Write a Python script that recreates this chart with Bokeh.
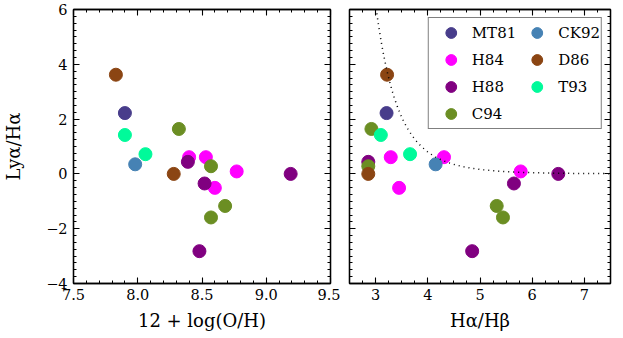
import numpy as np
from bokeh.plotting import figure
from bokeh.models import Range1d, FixedTicker, LinearAxis, Legend, LegendItem, CustomLabelingPolicy
from bokeh.layouts import row
from bokeh.embed import file_html
from bokeh.resources import INLINE

# ---- data ----
surveys = ["MT81", "H84", "H88", "C94", "CK92", "D86", "T93"]
colors = ["#483D8B", "#FF00FF", "#800080", "#6B8E23", "#4682B4", "#8B4513", "#00FA9A"]

mt81_oh = [7.90]
mt81_bd = [3.21]
mt81_ly = [2.22]

h84_oh = [8.40, 8.53, 8.60, 8.77]
h84_bd = [3.29, 4.31, 3.45, 5.78]
h84_ly = [0.61, 0.61, -0.51, 0.09]

h88_oh = [8.39, 8.52, 8.48, 9.19]
h88_bd = [2.86, 5.65, 4.85, 6.50]
h88_ly = [0.44, -0.35, -2.82, 0.00]

c94_oh = [8.32, 8.57, 8.68, 8.57]
c94_bd = [2.92, 2.86, 5.32, 5.44]
c94_ly = [1.64, 0.28, -1.17, -1.59]

ck92_oh = [7.98]
ck92_bd = [4.15]
ck92_ly = [0.35]

d86_oh = [7.83, 8.28]
d86_bd = [3.22, 2.86]
d86_ly = [3.62, 0.00]

t93_oh = [7.90, 8.06]
t93_bd = [3.10, 3.66]
t93_ly = [1.42, 0.72]

oh_list = [mt81_oh, h84_oh, h88_oh, c94_oh, ck92_oh, d86_oh, t93_oh]
bd_list = [mt81_bd, h84_bd, h88_bd, c94_bd, ck92_bd, d86_bd, t93_bd]
ly_list = [mt81_ly, h84_ly, h88_ly, c94_ly, ck92_ly, d86_ly, t93_ly]

# dust model: Lya/Ha = intrinsic * (Ha/Hb / 2.86)^-k
lya_intrinsic = 8.7
balmer_intrinsic = 2.86
dust_exponent = 7.1

# ticks
oh_ticks = [7.5, 8.0, 8.5, 9.0, 9.5]
oh_tick_labels = ["7.5", "8.0", "8.5", "9.0", "9.5"]
bd_ticks = [3, 4, 5, 6, 7]
bd_tick_labels = ["3", "4", "5", "6", "7"]
ly_ticks = [-4, -2, 0, 2, 4, 6]
ly_tick_labels = ["\u22124", "\u22122", "0", "2", "4", "6"]

FONT = "DejaVu Serif"
TICK_SIZE = "14.5px"
LABEL_SIZE = "18px"

NO_LABELS = "for (const i of indices) { indices.unset(i) }\nreturn indices"


def style_axis(ax, ticks, minor, labels=None, show=True):
    ax.ticker = FixedTicker(ticks=ticks, minor_ticks=list(minor))
    ax.major_tick_in = 6
    ax.major_tick_out = 0
    ax.minor_tick_in = 3
    ax.minor_tick_out = 0
    ax.axis_line_color = "black"
    ax.axis_line_width = 1.3
    ax.major_tick_line_color = "black"
    ax.minor_tick_line_color = "black"
    ax.major_tick_line_width = 1.1
    ax.minor_tick_line_width = 1
    ax.major_label_text_font = FONT
    ax.major_label_text_color = "black"
    ax.axis_label_text_font = FONT
    ax.axis_label_text_font_style = "normal"
    ax.axis_label_text_font_size = LABEL_SIZE
    ax.axis_label_text_color = "black"
    if show:
        ax.major_label_text_font_size = TICK_SIZE
        if labels is not None:
            ax.major_label_overrides = {t: l for t, l in zip(ticks, labels)}
    else:
        ax.major_label_policy = CustomLabelingPolicy(code=NO_LABELS)
        ax.major_label_text_font_size = "0px"
        ax.major_label_standoff = 0
        ax.axis_label = None


def make_fig(width, xr, bl, br):
    p = figure(width=width, height=338, x_range=Range1d(*xr), y_range=Range1d(-4, 6),
               output_backend="svg", toolbar_location=None,
               min_border_left=bl, min_border_right=br, min_border_top=9, min_border_bottom=55,
               x_axis_location="below", y_axis_location="left")
    p.xgrid.visible = False
    p.ygrid.visible = False
    p.outline_line_color = "black"
    p.outline_line_width = 1.3
    p.background_fill_color = "white"
    p.border_fill_color = "white"
    return p


y_minor = np.arange(-4, 6.001, 0.25)

# ---- left panel ----
p1 = make_fig(340, (7.5, 9.5), 68, 10)
style_axis(p1.xaxis[0], oh_ticks, np.arange(7.5, 9.501, 0.1), oh_tick_labels)
style_axis(p1.yaxis[0], ly_ticks, y_minor, ly_tick_labels)
p1.xaxis[0].axis_label = "12 + log(O/H)"
p1.yaxis[0].axis_label = "Ly\u03b1/H\u03b1"
p1.xaxis[0].major_label_standoff = 5
p1.xaxis[0].axis_label_standoff = 7
p1.yaxis[0].major_label_standoff = 6
p1.yaxis[0].axis_label_standoff = 19
top1 = LinearAxis()
right1 = LinearAxis()
style_axis(top1, oh_ticks, np.arange(7.5, 9.501, 0.1), show=False)
style_axis(right1, ly_ticks, y_minor, show=False)
p1.add_layout(top1, "above")
p1.add_layout(right1, "right")

for oh, ly, c in zip(oh_list, ly_list, colors):
    p1.scatter(oh, ly, size=13, fill_color=c, line_color=c)

# ---- right panel ----
p2 = make_fig(283, (2.5, 7.5), 9, 13)
style_axis(p2.xaxis[0], bd_ticks, np.arange(2.5, 7.501, 0.25), bd_tick_labels)
style_axis(p2.yaxis[0], ly_ticks, y_minor, show=False)
p2.xaxis[0].axis_label = "H\u03b1/H\u03b2"
p2.xaxis[0].major_label_standoff = 5
p2.xaxis[0].axis_label_standoff = 7
top2 = LinearAxis()
right2 = LinearAxis()
style_axis(top2, bd_ticks, np.arange(2.5, 7.501, 0.25), show=False)
style_axis(right2, ly_ticks, y_minor, show=False)
p2.add_layout(top2, "above")
p2.add_layout(right2, "right")

items = []
for name, bd, ly, c in zip(surveys, bd_list, ly_list, colors):
    r = p2.scatter(bd, ly, size=13, fill_color=c, line_color=c)
    items.append(LegendItem(label=name, renderers=[r]))

model_x = np.linspace(2.5, 7.5, 400)
model_y = lya_intrinsic * (model_x / balmer_intrinsic) ** (-dust_exponent)
p2.line(model_x, model_y, line_color="black", line_width=1.5, line_dash="1 4")

legend = Legend(items=items, location="top_right", nrows=4, orientation="vertical")
legend.margin = 8
legend.padding = 1
legend.spacing = 0
legend.glyph_width = 42
legend.glyph_height = 27
legend.label_height = 27
legend.label_standoff = 0
legend.label_text_font = FONT
legend.label_text_font_size = "15px"
legend.label_text_color = "black"
legend.border_line_color = "black"
legend.border_line_width = 1.5
legend.background_fill_color = "white"
legend.background_fill_alpha = 1.0
p2.add_layout(legend)

layout = row(p1, p2)
open("out.html", "w").write(file_html(layout, INLINE))
